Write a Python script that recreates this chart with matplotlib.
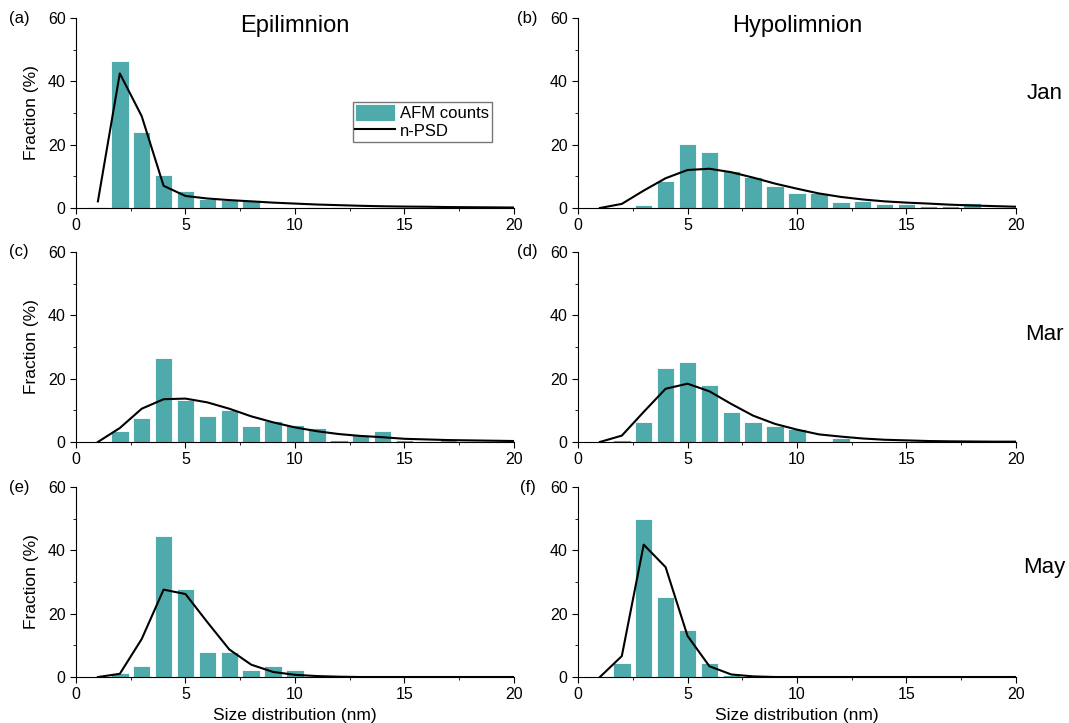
import numpy as np
import matplotlib
matplotlib.use('Agg')
import matplotlib.pyplot as plt
from matplotlib.ticker import MultipleLocator

plt.rcParams['font.family'] = ['Liberation Sans', 'DejaVu Sans']

sizes = list(range(1, 21))

# AFM counts (bars), size bins 1..20 nm
afm_a = [0.3, 46.5, 24.1, 10.3, 5.5, 2.8, 2.5, 2.5, 0, 0, 0.3, 0.3, 0, 0, 0, 0.3, 0, 0, 0.7, 0]
afm_b = [0, 0, 0.8, 8.6, 20.2, 17.6, 11.7, 9.7, 6.8, 4.8, 4.8, 1.8, 2.1, 1.3, 1.3, 0.5, 0.6, 1.6, 0.4, 0]
afm_c = [0, 3.6, 7.7, 26.4, 13.3, 8.2, 10.0, 5.2, 6.5, 5.4, 4.3, 0.5, 2.3, 3.6, 0.7, 0.3, 0.5, 0.3, 0.2, 0]
afm_d = [0, 0.5, 6.2, 23.4, 25.1, 18.1, 9.6, 6.2, 5.1, 4.1, 0, 1.3, 0, 0, 0, 0, 0, 0, 0, 0.3]
afm_e = [0, 1.2, 3.5, 44.4, 27.8, 7.9, 7.9, 2.3, 3.5, 2.3, 0, 0, 0, 0, 0, 0, 0, 0, 0, 0]
afm_f = [0, 4.5, 50.0, 25.4, 14.9, 4.5, 0.7, 0, 0, 0, 0, 0, 0, 0, 0, 0, 0, 0, 0, 0]

# n-PSD (lines)
psd_a = [2.1, 42.5, 29.0, 7.0, 3.8, 3.0, 2.5, 2.1, 1.7, 1.4, 1.1, 0.9, 0.7, 0.55, 0.45, 0.4, 0.3, 0.25, 0.2, 0.15]
psd_b = [0, 1.3, 5.5, 9.4, 12.0, 12.4, 11.3, 9.6, 7.7, 6.1, 4.6, 3.5, 2.7, 2.1, 1.7, 1.4, 1.05, 0.8, 0.6, 0.4]
psd_c = [0, 4.4, 10.5, 13.5, 13.7, 12.5, 10.5, 8.1, 6.2, 4.6, 3.4, 2.5, 1.9, 1.5, 1.0, 0.8, 0.6, 0.5, 0.4, 0.3]
psd_d = [0, 2.0, 9.5, 16.8, 18.4, 16.0, 12.0, 8.3, 5.7, 3.9, 2.4, 1.7, 1.1, 0.7, 0.5, 0.3, 0.2, 0.15, 0.1, 0.1]
psd_e = [0, 1.0, 12.0, 27.6, 26.2, 17.3, 8.7, 3.9, 1.6, 0.7, 0.3, 0.1, 0, 0, 0, 0, 0, 0, 0, 0]
psd_f = [0, 6.6, 41.8, 34.7, 13.0, 3.4, 0.8, 0.2, 0, 0, 0, 0, 0, 0, 0, 0, 0, 0, 0, 0]

panels = ['(a)', '(b)', '(c)', '(d)', '(e)', '(f)']
afm = [afm_a, afm_b, afm_c, afm_d, afm_e, afm_f]
psd = [psd_a, psd_b, psd_c, psd_d, psd_e, psd_f]
columns = ['Epilimnion', 'Hypolimnion']
months = ['Jan', 'Mar', 'May']
month_y = [0.605, 0.563, 0.574]

bar_color = '#4fabab'

fig = plt.figure(figsize=(10.69, 7.23), dpi=100)
lefts = [0.0711, 0.5407]
bottoms = [0.7123, 0.3887, 0.0636]
w, h = 0.4097, 0.2628

for i in range(6):
    r, c = divmod(i, 2)
    ax = fig.add_axes([lefts[c], bottoms[r], w, h])
    ax.bar(sizes, afm[i], width=0.8, color=bar_color, edgecolor='white',
           linewidth=0.6, label='AFM counts', zorder=2)
    ax.plot(sizes, psd[i], color='black', lw=1.5, label='n-PSD', zorder=3)
    ax.set_xlim(0, 20)
    ax.set_ylim(0, 60)
    ax.xaxis.set_major_locator(MultipleLocator(5))
    ax.xaxis.set_minor_locator(MultipleLocator(2.5))
    ax.yaxis.set_major_locator(MultipleLocator(20))
    ax.yaxis.set_minor_locator(MultipleLocator(10))
    for s in ['top', 'right']:
        ax.spines[s].set_visible(False)
    ax.tick_params(which='both', direction='out', labelsize=11.5)
    ax.tick_params(which='major', length=4)
    ax.tick_params(which='minor', length=2.5)
    ax.text(-0.13 if c == 0 else -0.115, 1.0, panels[i], transform=ax.transAxes,
            fontsize=12, ha='center', va='center')
    if c == 0:
        ax.set_ylabel('Fraction (%)', fontsize=12.5, labelpad=6)
    if r == 2:
        ax.set_xlabel('Size distribution (nm)', fontsize=12.5, labelpad=4)
    if r == 0:
        ax.text(0.5, 0.96, columns[c], transform=ax.transAxes, fontsize=17,
                ha='center', va='center')
    if c == 1:
        ax.text(1.065, month_y[r], months[r], transform=ax.transAxes, fontsize=16,
                ha='center', va='center')
    if i == 0:
        handles, labels = ax.get_legend_handles_labels()
        ax.legend(handles[::-1], labels[::-1], loc='upper left',
                  bbox_to_anchor=(0.632, 0.558), frameon=True,
                  fancybox=False, edgecolor='#555555', fontsize=12,
                  handlelength=2.4, handleheight=1.15, borderpad=0.15,
                  labelspacing=0.05, handletextpad=0.3, borderaxespad=0)

fig.savefig('out.png', dpi=100)
